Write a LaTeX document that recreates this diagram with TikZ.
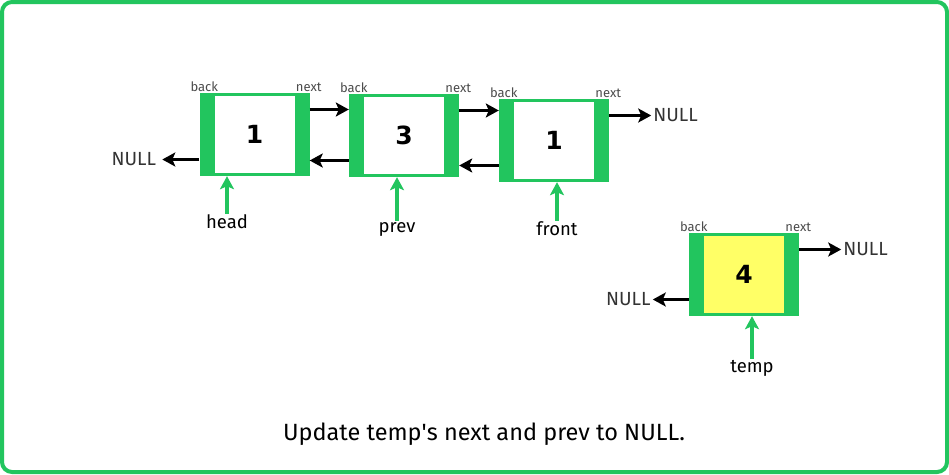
\documentclass[tikz,border=0pt]{standalone}
\usepackage{fontspec}
\setmainfont{Fira Sans}
\newfontfamily\numfont{DejaVu Sans}
\usetikzlibrary{arrows.meta,positioning}
\definecolor{grn}{RGB}{34,197,94}
\definecolor{ylw}{RGB}{255,255,102}

\begin{document}
\begin{tikzpicture}[x=1pt,y=-1pt,
    cell/.style={fill=grn, minimum width=110pt, minimum height=83pt, inner sep=0pt,
      font=\numfont\bfseries\fontsize{25}{25}\selectfont,
      path picture={\fill[#1] ([xshift=15pt,yshift=-3pt]path picture bounding box.north west)
        rectangle ([xshift=-15pt,yshift=3pt]path picture bounding box.south east);}},
    cell/.default=white,
    tag/.style={font=\fontsize{13}{13}\selectfont, text=black!70, inner sep=1pt, anchor=south},
    nul/.style={font=\fontsize{19}{19}\selectfont, text=black!80, inner sep=2pt},
    ptr/.style={line width=3.5pt, -{Stealth[length=13pt,width=14pt,inset=3pt]}},
    gptr/.style={ptr, grn},
    who/.style={font=\fontsize{18.5}{18.5}\selectfont, inner sep=1pt}]
    \useasboundingbox (0,0) rectangle (949,474);
    \draw[grn, line width=4pt, fill=white, rounded corners=10pt] (2,2) rectangle (947,472);
    % list nodes
    \node[cell] (n1) at (254.5,134.5) {1};
    \node[cell] (n2) at (404,135.5) {3};
    \node[cell] (n3) at (554,140.5) {1};
    \node[cell=ylw] (n4) at (744,274.5) {4};
    \foreach \n in {n1,n2,n3,n4} {
      \node[tag] (\n b) at ([xshift=5pt]\n.north west) {back};
      \node[tag] (\n n) at ([xshift=-1pt]\n.north east) {next};
    }
    % links
    \draw[ptr] ([yshift=25pt]n1.east) -- ([yshift=25pt]n1.east -| n2.west);
    \draw[ptr] ([yshift=-25pt]n2.west) -- ([yshift=-25pt]n2.west -| n1.east);
    \draw[ptr] ([yshift=25pt]n2.east) -- ([yshift=25pt]n2.east -| n3.west);
    \draw[ptr] ([yshift=-25pt]n3.west) -- ([yshift=-25pt]n3.west -| n2.east);
    \node[nul, anchor=east] (z1) at ([xshift=-41pt,yshift=-25pt]n1.west) {NULL};
    \draw[ptr, shorten >=4pt] ([yshift=-25pt]n1.west) -- (z1.east);
    \node[nul, anchor=west] (z3) at ([xshift=42pt,yshift=25pt]n3.east) {NULL};
    \draw[ptr] ([yshift=25pt]n3.east) -- (z3.west);
    \node[nul, anchor=west] (z4) at ([xshift=42pt,yshift=25pt]n4.east) {NULL};
    \draw[ptr] ([yshift=25pt]n4.east) -- (z4.west);
    \node[nul, anchor=east] (y4) at ([xshift=-36pt,yshift=-25pt]n4.west) {NULL};
    \draw[ptr] ([yshift=-25pt]n4.west) -- (y4.east);
    % pointers
    \node[who] (hd) at (227,222) {head};
    \node[who] (pv) at (397,229) {prev};
    \node[who] (fr) at (557,229) {front};
    \node[who] (tp) at (752,368) {temp};
    \draw[gptr] (hd) -- (hd |- n1.south);
    \draw[gptr] (pv) -- (pv |- n2.south);
    \draw[gptr] (fr) -- (fr |- n3.south);
    \draw[gptr] (tp) -- (tp |- n4.south);
    \node[font=\fontsize{23.5}{23.5}\selectfont] (cap) at (484,434) {Update temp\textquotesingle s next and prev to NULL.};
\end{tikzpicture}
\end{document}
